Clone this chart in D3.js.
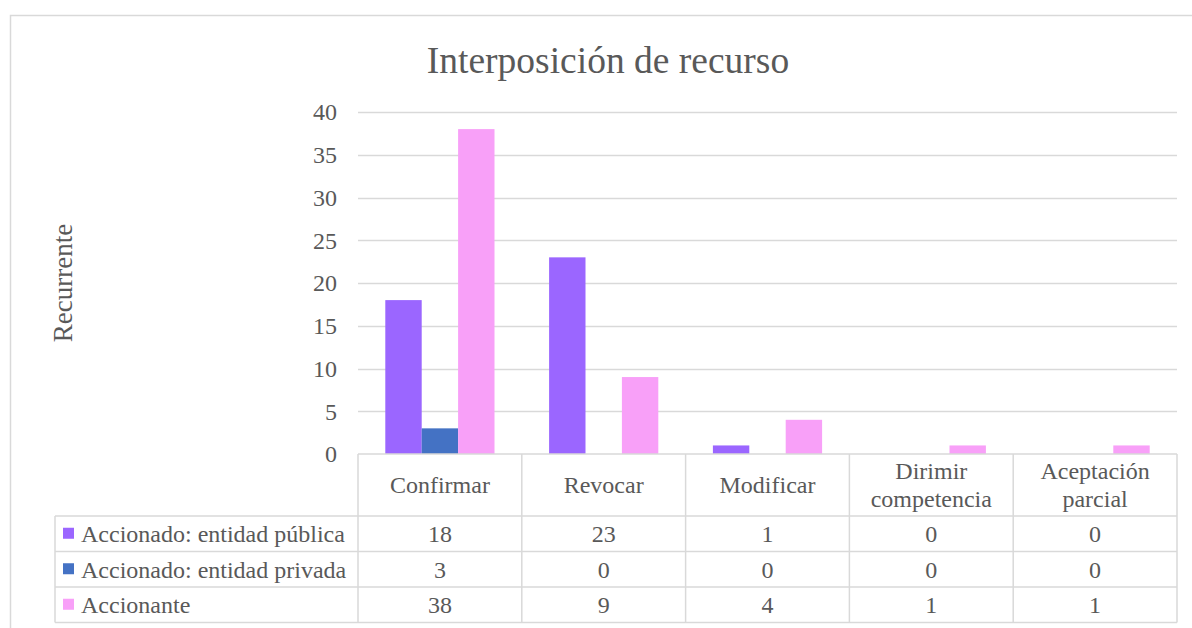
<!DOCTYPE html>
<html>
<head>
<meta charset="utf-8">
<script src="https://cdn.jsdelivr.net/npm/d3@7"></script>
<style>
  body { margin: 0; background: #fff; }
  svg text { font-family: "Liberation Serif", "Times New Roman", serif; fill: #595959; }
</style>
</head>
<body>
<svg id="chart" width="1192" height="628"></svg>
<script>
const categories = ["Confirmar", "Revocar", "Modificar", "Dirimir\ncompetencia", "Aceptación\nparcial"];
const seriesNames = ["Accionado: entidad pública", "Accionado: entidad privada", "Accionante"];
const publica = [18, 23, 1, 0, 0];
const privada = [3, 0, 0, 0, 0];
const accionante = [38, 9, 4, 1, 1];
const yTicks = [0, 5, 10, 15, 20, 25, 30, 35, 40];
const colors = ["#9B66FF", "#4472C4", "#F8A0F8"];

const series = [publica, privada, accionante];
const gridColor = "#d9d9d9";
const labelSize = "24px";

const plotLeft = 358, plotRight = 1177, plotTop = 112, plotBottom = 454;
const legendLeft = 55;
const headerH = 62, rowH = 35.5;

const svg = d3.select("#chart");

// frame of the chart area
svg.append("path")
    .attr("d", "M10.5,640 L10.5,15.5 L1200,15.5")
    .attr("fill", "none")
    .attr("stroke", gridColor)
    .attr("stroke-width", 1.5);

const x0 = d3.scaleBand().domain(d3.range(categories.length))
    .range([plotLeft, plotRight]).paddingInner(1 / 3).paddingOuter(1 / 6);
const x1 = d3.scaleBand().domain(d3.range(series.length)).range([0, x0.bandwidth()]);
const y = d3.scaleLinear().domain([0, 40]).range([plotBottom, plotTop]);

// gridlines
svg.append("g").selectAll("line")
    .data(yTicks.filter(d => d > 0))
    .enter().append("line")
    .attr("x1", plotLeft).attr("x2", plotRight)
    .attr("y1", d => Math.round(y(d)) + 0.5).attr("y2", d => Math.round(y(d)) + 0.5)
    .attr("stroke", gridColor).attr("stroke-width", 1.3);

// y tick labels
svg.append("g").selectAll("text")
    .data(yTicks)
    .enter().append("text")
    .attr("x", 337).attr("y", d => y(d))
    .attr("dy", "0.35em")
    .attr("text-anchor", "end")
    .style("font-size", labelSize)
    .text(d => d);

// bars
const groups = svg.append("g").selectAll("g")
    .data(categories.map((c, i) => i))
    .enter().append("g")
    .attr("transform", i => `translate(${x0(i)},0)`);

groups.selectAll("rect")
    .data(i => series.map((s, k) => ({ k, v: s[i] })))
    .enter().append("rect")
    .attr("x", d => x1(d.k))
    .attr("width", x1.bandwidth())
    .attr("y", d => y(d.v))
    .attr("height", d => y(0) - y(d.v))
    .attr("fill", d => colors[d.k]);

// data table
const table = svg.append("g")
    .attr("stroke", gridColor).attr("stroke-width", 1.5).attr("fill", "none");
const tableBottom = plotBottom + headerH + rowH * 3;
const step = x0.step();
const colEdges = d3.range(categories.length + 1).map(i => plotLeft + i * step);

// horizontal lines
table.append("line").attr("x1", plotLeft).attr("x2", plotRight).attr("y1", plotBottom).attr("y2", plotBottom);
d3.range(4).forEach(r => {
    const yy = plotBottom + headerH + r * rowH;
    table.append("line").attr("x1", legendLeft).attr("x2", plotRight).attr("y1", yy).attr("y2", yy);
});
// vertical lines
colEdges.forEach(xx => {
    table.append("line").attr("x1", xx).attr("x2", xx).attr("y1", plotBottom).attr("y2", tableBottom);
});
table.append("line").attr("x1", legendLeft).attr("x2", legendLeft)
    .attr("y1", plotBottom + headerH).attr("y2", tableBottom);

// header labels
categories.forEach((c, i) => {
    const lines = c.split("\n");
    const cx = plotLeft + (i + 0.5) * step;
    const cy = plotBottom + headerH / 2;
    const lh = 28;
    lines.forEach((ln, j) => {
        svg.append("text")
            .attr("x", cx)
            .attr("y", cy + (j - (lines.length - 1) / 2) * lh)
            .attr("dy", "0.35em")
            .attr("text-anchor", "middle")
            .style("font-size", labelSize)
            .text(ln);
    });
});

// rows: legend + values
seriesNames.forEach((name, r) => {
    const cy = plotBottom + headerH + (r + 0.5) * rowH;
    svg.append("rect")
        .attr("x", 63).attr("y", cy - 6)
        .attr("width", 11).attr("height", 11)
        .attr("fill", colors[r]);
    svg.append("text")
        .attr("x", 81).attr("y", cy)
        .attr("dy", "0.35em")
        .style("font-size", labelSize)
        .text(name);
    series[r].forEach((v, i) => {
        svg.append("text")
            .attr("x", plotLeft + (i + 0.5) * step)
            .attr("y", cy)
            .attr("dy", "0.35em")
            .attr("text-anchor", "middle")
            .style("font-size", labelSize)
            .text(v);
    });
});

// title
svg.append("text")
    .attr("x", 608).attr("y", 60)
    .attr("dy", "0.35em")
    .attr("text-anchor", "middle")
    .style("font-size", "37.5px")
    .text("Interposición de recurso");

// y axis title
svg.append("text")
    .attr("transform", `translate(63,${(plotTop + plotBottom) / 2}) rotate(-90)`)
    .attr("dy", "0.35em")
    .attr("text-anchor", "middle")
    .style("font-size", "27px")
    .text("Recurrente");
</script>
</body>
</html>
